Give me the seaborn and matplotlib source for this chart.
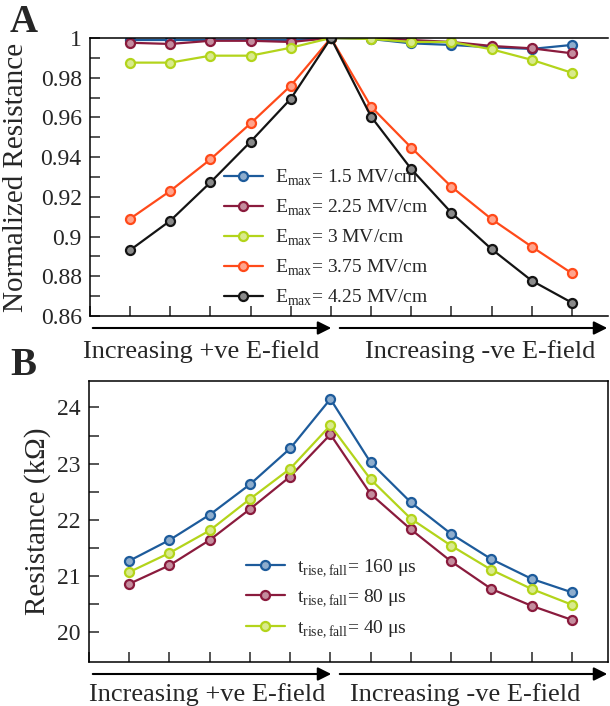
import numpy as np
import pandas as pd
import matplotlib
matplotlib.use("Agg")
import matplotlib.pyplot as plt
import seaborn as sns
from matplotlib.ticker import MultipleLocator, FixedLocator

# ---- data ----
steps = list(range(12))  # 6 steps of increasing +ve field, then 6 of -ve field

emax_labels = ["1.5 MV/cm", "2.25 MV/cm", "3 MV/cm", "3.75 MV/cm", "4.25 MV/cm"]
norm_r_15 = [0.999, 0.999, 0.999, 0.999, 0.999, 1.0, 0.9995, 0.9973, 0.9965, 0.9953, 0.9945, 0.9965]
norm_r_225 = [0.9976, 0.997, 0.9986, 0.9986, 0.998, 1.0, 1.0, 0.999, 0.998, 0.996, 0.9948, 0.9923]
norm_r_3 = [0.9876, 0.9876, 0.9911, 0.9911, 0.9951, 1.0, 0.9995, 0.998, 0.998, 0.9943, 0.989, 0.9825]
norm_r_375 = [0.909, 0.923, 0.9389, 0.957, 0.976, 1.0, 0.9654, 0.9448, 0.9251, 0.9088, 0.8949, 0.8815]
norm_r_425 = [0.8932, 0.908, 0.9273, 0.9478, 0.9694, 1.0, 0.9604, 0.934, 0.912, 0.8937, 0.8778, 0.8667]

trise_labels = ["160 \u03bcs", "80 \u03bcs", "40 \u03bcs"]
res_160 = [21.27, 21.64, 22.09, 22.63, 23.27, 24.15, 23.02, 22.31, 21.75, 21.30, 20.95, 20.71]
res_80 = [20.86, 21.19, 21.64, 22.19, 22.77, 23.52, 22.46, 21.83, 21.26, 20.77, 20.47, 20.22]
res_40 = [21.07, 21.41, 21.81, 22.37, 22.91, 23.68, 22.72, 22.02, 21.54, 21.11, 20.77, 20.49]

blue, maroon, green, orange, black = "#1d5b9b", "#8a1b3d", "#b3d41b", "#ff4a1a", "#141414"

sns.set_style("white")
plt.rcParams["font.family"] = ["Liberation Serif", "DejaVu Serif"]
plt.rcParams["mathtext.fontset"] = "custom"
plt.rcParams["mathtext.rm"] = "Liberation Serif"

W, H = 610, 706
fig = plt.figure(figsize=(W / 100, H / 100), dpi=100)


def px_axes(l, t, r, b):
    return fig.add_axes([l / W, 1 - b / H, (r - l) / W, (b - t) / H])


def lighten(c, f=0.5):
    rgb = np.array(matplotlib.colors.to_rgb(c))
    return tuple(rgb + (1 - rgb) * f)


def draw(ax, y, color, label):
    sns.lineplot(x=steps, y=y, ax=ax, color=color, lw=1.6, marker="o", ms=6.5,
                 markerfacecolor=lighten(color), markeredgecolor=color, mew=1.6,
                 label=label)


def style_axes(ax):
    ax.set_xlim(-1, 11.9)
    ax.xaxis.set_major_locator(MultipleLocator(1))
    ax.set_xticklabels([])
    ax.tick_params(axis="x", which="both", direction="in", length=7, width=1.1, bottom=True)
    ax.tick_params(axis="y", which="both", direction="in", length=7, width=1.1, left=True,
                   labelsize=17, pad=6)
    for s in ax.spines.values():
        s.set_color("black")
        s.set_linewidth(1.1)
    ax.set_xlabel("")


# ---- panel A ----
axA = px_axes(90, 38, 608, 316)
for y, c, lab in zip([norm_r_15, norm_r_225, norm_r_3, norm_r_375, norm_r_425],
                     [blue, maroon, green, orange, black], emax_labels):
    draw(axA, y, c, r"E$_{\mathregular{max}}$= " + lab)
axA.set_ylim(0.86, 1.0)
axA.set_yticks(np.arange(0.86, 1.001, 0.02))
axA.set_yticklabels(["0.86", "0.88", "0.9", "0.92", "0.94", "0.96", "0.98", "1"])
axA.yaxis.set_minor_locator(FixedLocator(np.arange(0.87, 1.0, 0.02)))
style_axes(axA)
axA.spines["right"].set_visible(False)
axA.set_ylabel("Normalized Resistance", fontsize=21)
axA.yaxis.set_label_coords((29 - 90) / 518, 0.5)
axA.legend(loc="upper left", bbox_to_anchor=((224 - 90) / 518, (316 - 168) / 278),
           frameon=False, fontsize=14, handlelength=2.0, handletextpad=0.6,
           labelspacing=0.5, borderpad=0, borderaxespad=0)

# ---- panel B ----
axB = px_axes(89, 381, 608, 662)
for y, c, lab in zip([res_160, res_80, res_40], [blue, maroon, green], trise_labels):
    draw(axB, y, c, r"t$_{\mathregular{rise,fall}}$= " + lab)
axB.set_ylim(19.47, 24.47)
axB.yaxis.set_major_locator(MultipleLocator(1))
axB.yaxis.set_minor_locator(FixedLocator([20.5, 21.5, 22.5, 23.5]))
style_axes(axB)
axB.set_ylabel("Resistance (k\u03a9)", fontsize=21)
axB.yaxis.set_label_coords((51 - 89) / 519, 0.5)
axB.legend(loc="upper left", bbox_to_anchor=((246 - 89) / 519, (662 - 557) / 281),
           frameon=False, fontsize=14, handlelength=2.0, handletextpad=0.6,
           labelspacing=0.45, borderpad=0, borderaxespad=0)

# ---- arrows and direction captions ----
def arrow(x0, x1, y):
    fig.add_artist(matplotlib.patches.FancyArrowPatch(
        (x0 / W, 1 - y / H), (x1 / W, 1 - y / H), transform=fig.transFigure,
        arrowstyle="-|>", mutation_scale=20, lw=1.5, color="black"))


for ya, yt, cl, cr in [(328, 352, 201, 480), (674, 695, 207, 465)]:
    arrow(90, 334, ya)
    arrow(337, 610, ya)
    fig.text(cl / W, 1 - yt / H, "Increasing +ve E-field", fontsize=19, ha="center", va="center")
    fig.text(cr / W, 1 - yt / H, "Increasing -ve E-field", fontsize=19, ha="center", va="center")

fig.text(10 / W, 1 - 32 / H, "A", fontsize=28, fontweight="bold", ha="left", va="baseline")
fig.text(10 / W, 1 - 375 / H, "B", fontsize=28, fontweight="bold", ha="left", va="baseline")

fig.savefig("out.png", dpi=100)
